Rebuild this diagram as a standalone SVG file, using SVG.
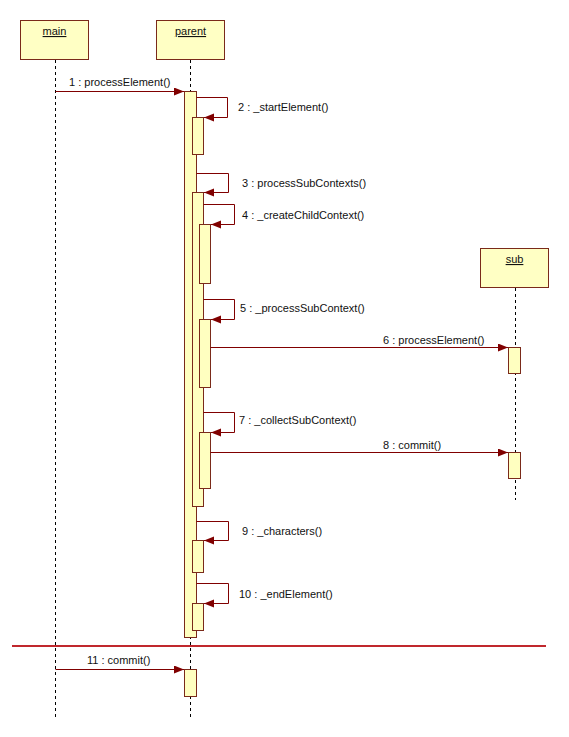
<svg xmlns="http://www.w3.org/2000/svg" width="569" height="737" viewBox="0 0 569 737">
<style>
.bg{fill:#ffffff}
.box{fill:#ffffc4;stroke:#7a2a1a;stroke-width:1}
.act{fill:#ffffc0;stroke:#7a2a1a;stroke-width:1}
.life{stroke:#000000;stroke-width:1;stroke-dasharray:3 3;fill:none}
.msg{stroke:#800000;stroke-width:1;fill:none;marker-end:url(#arr)}
.lbl{font-family:"Liberation Sans",Arial,sans-serif;font-size:11px;fill:#111111}
.name{font-family:"Liberation Sans",Arial,sans-serif;font-size:11px;fill:#111111;text-anchor:middle;text-decoration:underline}
.sep{stroke:#c0282d;stroke-width:2}
</style>
<defs>
<marker id="arr" markerUnits="userSpaceOnUse" markerWidth="11" markerHeight="9" refX="10" refY="4" orient="auto">
<path d="M0,0 L10,4 L0,8 z" fill="#800000"/>
</marker>
</defs>
<rect class="bg" x="0" y="0" width="569" height="737"/>

<g id="main">
<rect class="box" x="20.5" y="20.5" width="68" height="39"/>
<text class="name" x="54.5" y="35">main</text>
<line class="life" x1="55.5" y1="60" x2="55.5" y2="717"/>
</g>

<g id="parent">
<rect class="box" x="156.5" y="20.5" width="68" height="39"/>
<text class="name" x="190.5" y="35">parent</text>
<line class="life" x1="190.5" y1="60" x2="190.5" y2="717"/>
<rect class="act" x="184.5" y="91.5" width="12" height="546"/>
<rect class="act" x="192.5" y="117.5" width="11" height="37"/>
<rect class="act" x="192.5" y="192.5" width="11" height="314"/>
<rect class="act" x="199.5" y="224.5" width="11" height="59"/>
<rect class="act" x="199.5" y="319.5" width="11" height="68"/>
<rect class="act" x="199.5" y="432.5" width="11" height="56"/>
<rect class="act" x="192.5" y="540.5" width="11" height="32"/>
<rect class="act" x="192.5" y="603.5" width="11" height="27"/>
<rect class="act" x="184.5" y="669.5" width="12" height="27"/>
</g>

<g id="sub">
<rect class="box" x="480.5" y="248.5" width="68" height="39"/>
<text class="name" x="514.5" y="263">sub</text>
<line class="life" x1="515.5" y1="288" x2="515.5" y2="500"/>
<rect class="act" x="508.5" y="347.5" width="12" height="26"/>
<rect class="act" x="508.5" y="452.5" width="12" height="26"/>
</g>

<g id="connectors">
<path class="msg" d="M55.5,91.5 H184"/>
<path class="msg" d="M196.5,97.5 H227.5 V117.5 H204"/>
<path class="msg" d="M196.5,173.5 H228.5 V192.5 H204"/>
<path class="msg" d="M203.5,204.5 H234.5 V224.5 H211"/>
<path class="msg" d="M203.5,299.5 H234.5 V319.5 H211"/>
<path class="msg" d="M210.5,347.5 H508"/>
<path class="msg" d="M203.5,412.5 H234.5 V432.5 H211"/>
<path class="msg" d="M210.5,452.5 H508"/>
<path class="msg" d="M196.5,521.5 H228.5 V540.5 H204"/>
<path class="msg" d="M196.5,583.5 H228.5 V603.5 H204"/>
<path class="msg" d="M55.5,669.5 H184"/>
<text class="lbl" x="69" y="86">1 : processElement()</text>
<text class="lbl" x="238" y="111">2 : _startElement()</text>
<text class="lbl" x="242" y="187">3 : processSubContexts()</text>
<text class="lbl" x="242" y="219">4 : _createChildContext()</text>
<text class="lbl" x="240" y="312">5 : _processSubContext()</text>
<text class="lbl" x="383" y="344">6 : processElement()</text>
<text class="lbl" x="239" y="424">7 : _collectSubContext()</text>
<text class="lbl" x="383" y="449">8 : commit()</text>
<text class="lbl" x="242" y="535">9 : _characters()</text>
<text class="lbl" x="239" y="598">10 : _endElement()</text>
<text class="lbl" x="87" y="664">11 : commit()</text>
</g>

<line class="sep" x1="12" y1="646" x2="546" y2="646"/>
</svg>
